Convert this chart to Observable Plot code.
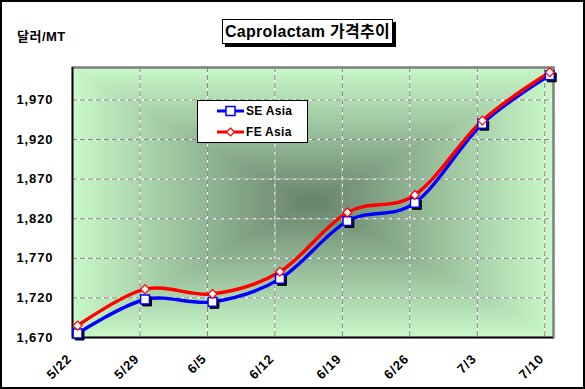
<!DOCTYPE html>
<html><head><meta charset="utf-8">
<script src="https://cdn.jsdelivr.net/npm/d3@7"></script>
<script src="https://cdn.jsdelivr.net/npm/@observablehq/plot@0.6"></script>
<style>
body{margin:0;background:#fff;}
#root{position:relative;width:585px;height:389px;overflow:hidden;font-family:"Liberation Sans",Arial,"Noto Sans CJK KR",sans-serif;}
#chart{position:absolute;left:0;top:0;}
#border{position:absolute;left:0;top:0;width:585px;height:389px;box-sizing:border-box;border:2px solid #000;pointer-events:none;}
#title{position:absolute;left:222px;top:19px;width:171px;height:25px;box-sizing:border-box;border:1px solid #000;background:#fff;box-shadow:3px 3px 0 #000;font-weight:bold;font-size:16px;line-height:23px;text-align:center;white-space:nowrap;letter-spacing:0.3px;}
#unit{position:absolute;left:17px;top:29px;font-weight:bold;font-size:13px;line-height:15px;letter-spacing:0.5px;}
#legend{position:absolute;left:197px;top:100px;width:111px;height:43px;box-sizing:border-box;border:1px solid #000;background:#fff;}
#legend .row{position:absolute;left:19px;height:14px;display:flex;align-items:center;font-weight:bold;font-size:12px;white-space:nowrap;letter-spacing:0.3px;}
#legend svg{margin-right:2px;}
#chart text{letter-spacing:0.9px;}
</style></head>
<body>
<div id="root">
  <div id="chart"></div>
  <div id="unit"></div>
  <div id="title"></div>
  <div id="legend"></div>
  <div id="border"></div>
</div>
<script>
const titleText = "Caprolactam 가격추이";
const unitText = "달러/MT";
const categories = ["5/22","5/29","6/5","6/12","6/19","6/26","7/3","7/10"];
const seAsia = [1675, 1718, 1715, 1744, 1817, 1840, 1940, 2001];
const feAsia = [1685, 1731, 1725, 1753, 1828, 1850, 1944, 2005];
const yTicks = [1670, 1720, 1770, 1820, 1870, 1920, 1970];
const seriesNames = ["SE Asia", "FE Asia"];
const seriesColors = ["#0000ff", "#ff0000"];

document.getElementById("title").textContent = titleText;
document.getElementById("unit").textContent = unitText;

// points sit a little to the right of the category gridlines (as in the original)
const shift = 0.075;
const rows = categories.flatMap((c, i) => [
  {cat: c, i, series: seriesNames[0], value: seAsia[i]},
  {cat: c, i, series: seriesNames[1], value: feAsia[i]}
]);
const se = rows.filter(d => d.series === seriesNames[0]);
const fe = rows.filter(d => d.series === seriesNames[1]);
const gridX = categories.map((c, i) => i - shift).slice(1);
const gridY = yTicks.slice(1);
const yMin = yTicks[0];

const plot = Plot.plot({
  width: 585,
  height: 389,
  marginLeft: 72,
  marginRight: 32,
  marginTop: 67,
  marginBottom: 52,
  style: {fontFamily: '"Liberation Sans", Arial, sans-serif', fontWeight: "bold", background: "transparent"},
  x: {type: "linear", domain: [-shift, 7.055], axis: null},
  y: {domain: [yMin, 2011], axis: null},
  marks: [
    Plot.ruleY(gridY, {stroke: "#ffffff", strokeWidth: 1}),
    Plot.ruleY(gridY, {stroke: "#808080", strokeWidth: 1, strokeDasharray: "5,3"}),
    Plot.ruleX(gridX, {stroke: "#ffffff", strokeWidth: 1}),
    Plot.ruleX(gridX, {stroke: "#808080", strokeWidth: 1, strokeDasharray: "5,3"}),
    Plot.frame({stroke: "#808080", strokeWidth: 2.5}),
    Plot.ruleX([-shift], {stroke: "#000", strokeWidth: 1.5}),
    Plot.ruleY([yMin], {stroke: "#000", strokeWidth: 1.5}),
    Plot.line(se, {x: "i", y: "value", stroke: seriesColors[0], strokeWidth: 3.4, curve: "cardinal", tension: 0}),
    Plot.line(fe, {x: "i", y: "value", stroke: seriesColors[1], strokeWidth: 3.4, curve: "cardinal", tension: 0}),
    Plot.dot(se, {x: "i", y: "value", symbol: "square", r: 5, fill: "#000", stroke: "#000", strokeWidth: 1, dx: 2, dy: 2}),
    Plot.dot(se, {x: "i", y: "value", symbol: "square", r: 5, fill: "#fff", stroke: seriesColors[0], strokeWidth: 1.5}),
    Plot.dot(fe, {x: "i", y: "value", symbol: "diamond2", r: 4, fill: "#fff", stroke: seriesColors[1], strokeWidth: 1.2}),
    Plot.text(yTicks, {x: -shift, y: d => d, text: d => d3.format(",")(d), textAnchor: "end", dx: -19, fontSize: 13, fontWeight: "bold", fill: "#000"}),
    Plot.text(categories, {x: (d, i) => i - shift, frameAnchor: "bottom", text: d => d, rotate: -45, textAnchor: "end", lineAnchor: "middle", dx: -3, dy: 19, fontSize: 13, fontWeight: "bold", fill: "#000"})
  ]
});
document.getElementById("chart").appendChild(plot);

// rectangular "from centre" gradient background of the plot area
(function () {
  const xs = plot.scale("x"), ys = plot.scale("y");
  const L = Math.min(...xs.range), R = Math.max(...xs.range);
  const T = Math.min(...ys.range), B = Math.max(...ys.range);
  const cx = (L + R) / 2, cy = (T + B) / 2;
  const edge = "#c8f8c8", center = "#66826a";
  const svg = d3.select(plot);
  const defs = svg.insert("defs", ":first-child");
  const grads = [
    {id: "gT", x1: cx, y1: T, x2: cx, y2: cy, pts: [[L, T], [R, T], [cx, cy]]},
    {id: "gB", x1: cx, y1: B, x2: cx, y2: cy, pts: [[L, B], [R, B], [cx, cy]]},
    {id: "gL", x1: L, y1: cy, x2: cx, y2: cy, pts: [[L, T], [L, B], [cx, cy]]},
    {id: "gR", x1: R, y1: cy, x2: cx, y2: cy, pts: [[R, T], [R, B], [cx, cy]]}
  ];
  grads.forEach(g => {
    const lg = defs.append("linearGradient").attr("id", g.id).attr("gradientUnits", "userSpaceOnUse")
      .attr("x1", g.x1).attr("y1", g.y1).attr("x2", g.x2).attr("y2", g.y2);
    lg.append("stop").attr("offset", 0).attr("stop-color", edge);
    lg.append("stop").attr("offset", 1).attr("stop-color", center);
  });
  const firstMark = plot.querySelector("g");
  const bg = document.createElementNS("http://www.w3.org/2000/svg", "g");
  plot.insertBefore(bg, firstMark);
  d3.select(bg).selectAll("polygon").data(grads).join("polygon")
    .attr("points", g => g.pts.map(p => p.join(",")).join(" "))
    .attr("fill", g => `url(#${g.id})`)
    .attr("stroke", g => `url(#${g.id})`)
    .attr("stroke-width", 0.6);
})();

// legend
(function () {
  const lg = d3.select("#legend");
  const tops = [3, 24];
  seriesNames.forEach((name, k) => {
    const row = lg.append("div").attr("class", "row").style("top", tops[k] + "px");
    const s = row.append("svg").attr("width", 27).attr("height", 14);
    s.append("line").attr("x1", 0).attr("x2", 27).attr("y1", 7).attr("y2", 7)
      .attr("stroke", seriesColors[k]).attr("stroke-width", 3);
    if (k === 0) {
      s.append("rect").attr("x", 9).attr("y", 2.5).attr("width", 9).attr("height", 9)
        .attr("fill", "#fff").attr("stroke", seriesColors[k]).attr("stroke-width", 1.5);
    } else {
      s.append("path").attr("d", "M13.5,3L17.5,7L13.5,11L9.5,7Z")
        .attr("fill", "#fff").attr("stroke", seriesColors[k]).attr("stroke-width", 1.2);
    }
    row.append("span").text(name);
  });
})();
</script>
</body></html>
